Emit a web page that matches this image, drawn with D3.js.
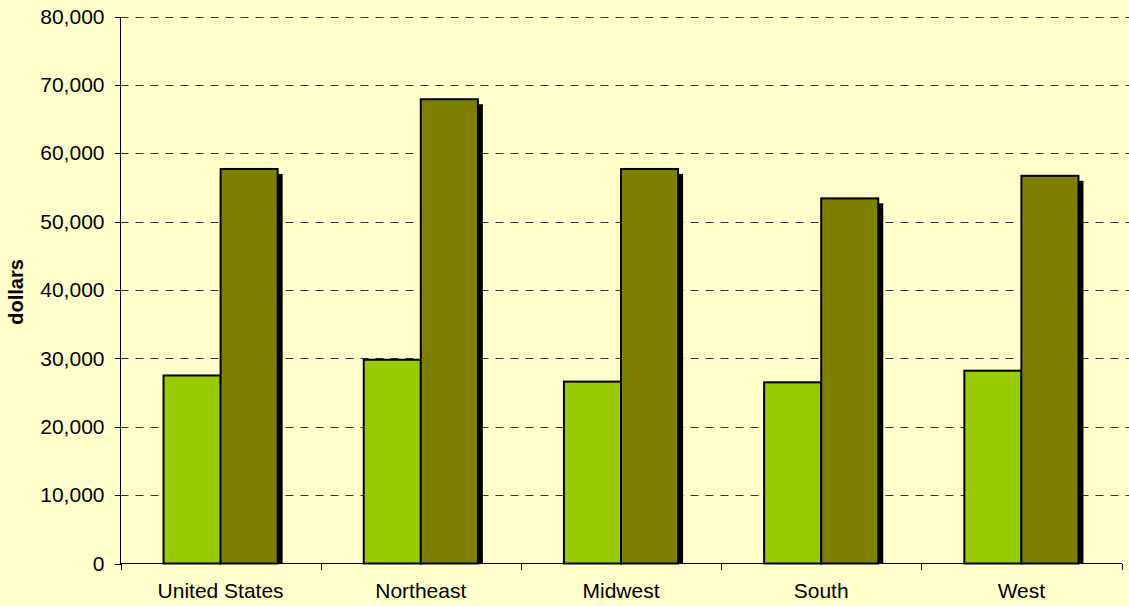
<!DOCTYPE html>
<meta charset="utf-8">
<style>
body {
    margin: 0;
    background: #ffffcc;
}
text {
    font-family: "Liberation Sans", Arial, sans-serif;
    fill: #000;
}
.grid line {
    stroke: #333;
    stroke-width: 1px;
    stroke-dasharray: 8,7;
}
.axis path, .axis line {
    stroke: #000;
    shape-rendering: crispEdges;
}
</style>
<svg width="1129" height="606"></svg>

<script src="https://d3js.org/d3.v7.min.js"></script>
<script>
const regions = ['United States', 'Northeast', 'Midwest', 'South', 'West'];
const seriesA = [27500, 29800, 26600, 26500, 28200];
const seriesB = [57700, 67900, 57700, 53400, 56700];
const yTicks = [0, 10000, 20000, 30000, 40000, 50000, 60000, 70000, 80000];

let svg = d3.select('svg');
let plotLeft = 120.5, plotRight = 1121.5, plotTop = 16.5, plotBottom = 563.5;

let x = d3.scaleBand()
    .domain(regions)
    .range([plotLeft, plotRight])
    .paddingInner(0)
    .paddingOuter(0);

let inner = d3.scaleBand()
    .domain(['a', 'b'])
    .range([0, x.bandwidth()])
    .paddingOuter(0.754)
    .paddingInner(0);

let y = d3.scaleLinear()
    .domain([0, 80000])
    .range([plotBottom, plotTop]);

// gridlines
svg.append('g').attr('class', 'grid')
    .selectAll('line')
    .data(yTicks.filter(d => d > 0))
    .enter().append('line')
        .attr('x1', plotLeft)
        .attr('x2', 1129)
        .attr('y1', d => Math.round(y(d)) + 0.5)
        .attr('y2', d => Math.round(y(d)) + 0.5);

let data = [];
regions.forEach((r, i) => {
    data.push({region: r, key: 'a', value: seriesA[i], fill: '#99cc00'});
    data.push({region: r, key: 'b', value: seriesB[i], fill: '#808000'});
});

let bars = svg.append('g');

// drop shadows first
bars.selectAll('rect.shadow')
    .data(data)
    .enter().append('rect')
        .attr('class', 'shadow')
        .attr('x', d => x(d.region) + inner(d.key) + 5)
        .attr('y', d => y(d.value) + 5)
        .attr('width', inner.bandwidth())
        .attr('height', d => plotBottom - y(d.value) - 5)
        .attr('fill', '#000');

bars.selectAll('rect.bar')
    .data(data)
    .enter().append('rect')
        .attr('class', 'bar')
        .attr('x', d => x(d.region) + inner(d.key))
        .attr('y', d => y(d.value))
        .attr('width', inner.bandwidth())
        .attr('height', d => plotBottom - y(d.value))
        .attr('fill', d => d.fill)
        .attr('stroke', '#000')
        .attr('stroke-width', 2);

// y axis
let yAxis = svg.append('g').attr('class', 'axis')
    .attr('transform', `translate(${plotLeft},0)`)
    .call(d3.axisLeft(y).tickValues(yTicks).tickSize(6).tickPadding(10)
        .tickFormat(d3.format(',')));
yAxis.select('.domain').attr('d', `M0,${plotTop}V${plotBottom}`);
yAxis.selectAll('text').style('font-size', '21px');

// x axis
let xAxis = svg.append('g').attr('class', 'axis')
    .attr('transform', `translate(0,${plotBottom})`);
xAxis.append('path').attr('d', `M${plotLeft},0H${plotRight}`);
xAxis.selectAll('line')
    .data(regions.map(r => x(r)).concat([plotRight]))
    .enter().append('line')
        .attr('x1', d => Math.round(d) + 0.5)
        .attr('x2', d => Math.round(d) + 0.5)
        .attr('y1', 0)
        .attr('y2', 6);
xAxis.selectAll('text')
    .data(regions)
    .enter().append('text')
        .attr('x', d => x(d) + x.bandwidth() / 2)
        .attr('y', 34)
        .attr('text-anchor', 'middle')
        .style('font-size', '21px')
        .text(d => d);

svg.append('text')
    .attr('transform', `translate(23,${(plotTop + plotBottom) / 2 + 2}) rotate(-90)`)
    .attr('text-anchor', 'middle')
    .style('font-size', '20px')
    .style('font-weight', 'bold')
    .text('dollars');
</script>
